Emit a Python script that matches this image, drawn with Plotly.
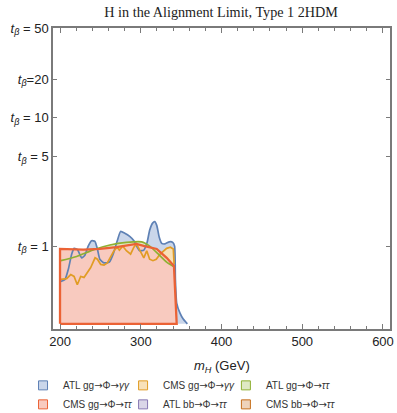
import numpy as np
import plotly.graph_objects as go

# Lower edge of the excluded regions in tan(beta)
t_floor = 0.248

# ATL gg -> Phi -> gamma gamma (upper boundary of excluded region)
m_atl_gaga = [201.0, 206.2, 210.3, 214.4, 217.5, 221.6, 226.7, 230.8, 234.9, 239.1, 243.2,
              246.3, 249.3, 254.5, 261.1, 265.8, 270.9, 275.0, 280.2, 286.3, 291.5, 295.6,
              298.7, 303.8, 307.9, 311.0, 314.7, 317.2, 319.8, 322.9, 325.9, 330.0, 335.4,
              339.6, 341.9, 342.9, 344.5, 348.6, 352.6, 357.7]
t_atl_gaga = [0.53, 0.55, 0.66, 0.865, 0.96, 0.94, 0.81, 0.85, 1.0, 1.10, 1.09, 0.95,
              0.79, 0.74, 0.75, 0.865, 1.10, 1.30, 1.26, 1.19, 1.10, 0.98, 0.92, 0.93,
              1.07, 1.33, 1.51, 1.55, 1.45, 1.17, 1.05, 1.04, 1.08, 1.07, 1.0, 0.55,
              0.36, 0.30, 0.27, 0.248]

# CMS gg -> Phi -> gamma gamma
m_cms_gaga = [201.0, 208.2, 213.3, 217.4, 221.4, 225.6, 229.7, 233.8, 238.0, 243.4, 246.3,
              250.4, 254.5, 258.6, 262.7, 266.8, 270.9, 273.5, 277.6, 282.2, 287.4, 291.5,
              294.6, 298.7, 303.8, 307.4, 311.0, 315.1, 319.2, 323.9, 328.0, 332.1, 336.7,
              340.3, 341.3]
t_cms_gaga = [0.55, 0.557, 0.60, 0.58, 0.50, 0.58, 0.57, 0.62, 0.68, 0.81, 0.79, 0.72,
              0.71, 0.74, 0.83, 0.92, 0.98, 0.93, 1.0, 0.92, 0.865, 0.98, 1.04, 0.92,
              0.81, 0.92, 0.79, 0.77, 0.79, 0.865, 0.92, 0.96, 0.98, 0.95, 0.72]

# ATL gg -> Phi -> tau tau
m_atl_gtt = [201.0, 220.6, 241.1, 261.7, 282.2, 301.1, 311.0, 321.8, 332.1, 341.1]
t_atl_gtt = [0.77, 0.83, 0.935, 1.02, 1.07, 1.08, 1.0, 0.865, 0.75, 0.69]

# CMS gg -> Phi -> tau tau (closed polygon)
m_cms_gtt = [200, 200, 228.8, 249.3, 269.9, 294.6, 304.8, 319.8, 332.1, 341.1, 344.5, 200]
t_cms_gtt = [0.248, 0.95, 0.94, 0.95, 0.98, 1.04, 1.0, 0.95, 0.81, 0.70, 0.248, 0.248]

ARROW = '<span style="font-family:DejaVu Sans">→</span>'
series_names = [f"ATL gg{ARROW}Φ{ARROW}<i>γγ</i>", f"CMS gg{ARROW}Φ{ARROW}<i>γγ</i>",
                f"ATL gg{ARROW}Φ{ARROW}<i>ττ</i>", f"CMS gg{ARROW}Φ{ARROW}<i>ττ</i>",
                f"ATL bb{ARROW}Φ{ARROW}<i>ττ</i>", f"CMS bb{ARROW}Φ{ARROW}<i>ττ</i>"]
line_colors = ["#5E81B5", "#E19C24", "#8FB032", "#EB6235", "#8778B3", "#C56E1A"]
fill_colors = ["#CAD6EA", "#F8E1B9", "#DFE9C4", "#F8CABF", "#DAD6E8", "#EED3BA"]

y_tickvals = [1, 5, 10, 20, 50]
y_ticktext = ["<i>t</i><sub><i>β</i></sub> = 1", "<i>t</i><sub><i>β</i></sub> = 5",
              "<i>t</i><sub><i>β</i></sub> = 10", "<i>t</i><sub><i>β</i></sub>=20",
              "<i>t</i><sub><i>β</i></sub> = 50"]
x_tickvals = [200, 300, 400, 500, 600]

fig = go.Figure()


def closed(ms, ts, start=200):
    # close a boundary curve down to the floor
    return [start, start, *ms, ms[-1], start], [t_floor, ts[0], *ts, t_floor, t_floor]


regions = [
    (m_atl_gaga, t_atl_gaga, 0, "spline"),
    (m_cms_gaga, t_cms_gaga, 1, "linear"),
    (m_atl_gtt, t_atl_gtt, 2, "spline"),
]

# filled regions first
for ms, ts, i, shp in regions:
    fx, fy = closed(ms, ts)
    fig.add_trace(go.Scatter(x=fx, y=fy, mode="lines", fill="toself",
                             fillcolor=fill_colors[i], line=dict(width=0),
                             hoverinfo="skip", showlegend=False))
fig.add_trace(go.Scatter(x=m_cms_gtt, y=t_cms_gtt, mode="lines", fill="toself",
                         fillcolor=fill_colors[3], line=dict(width=0),
                         hoverinfo="skip", showlegend=False))

# boundary lines on top
for ms, ts, i, shp in regions:
    fig.add_trace(go.Scatter(x=ms, y=ts, mode="lines",
                             line=dict(color=line_colors[i], width=1.7, shape=shp,
                                       smoothing=0.5 if shp == "spline" else None),
                             showlegend=False))
fig.add_trace(go.Scatter(x=m_cms_gtt, y=t_cms_gtt, mode="lines",
                         line=dict(color=line_colors[3], width=2.3),
                         showlegend=False))

# legend swatches, laid out in three columns of two
legend_ids = ["legend", "legend2", "legend3"]
for k, (name, lc, fc) in enumerate(zip(series_names, line_colors, fill_colors)):
    fig.add_trace(go.Scatter(x=[None], y=[None], mode="markers", name=name,
                             legend=legend_ids[k % 3], legendgroup=f"g{k}",
                             marker=dict(symbol="square", size=9, color=fc,
                                         line=dict(color=lc, width=1))))

axis_common = dict(showline=True, linecolor="#7a7a7a", linewidth=1.5, mirror="ticks",
                   ticks="inside", tickcolor="#7a7a7a", showgrid=False, zeroline=False,
                   ticklabeloverflow="allow",
                   tickfont=dict(family="Liberation Sans", size=13, color="#222"))

legend_common = dict(orientation="v", xref="container", yref="container", xanchor="left",
                     y=0.102, yanchor="top", itemwidth=30, tracegroupgap=0,
                     font=dict(family="Liberation Sans", size=10, color="#333"),
                     bgcolor="rgba(0,0,0,0)")

fig.update_layout(
    width=397, height=413,
    margin=dict(l=53, r=7, t=28, b=84, autoexpand=False),
    paper_bgcolor="white", plot_bgcolor="white",
    title=dict(text="H in the Alignment Limit, Type 1 2HDM", x=0.557, xanchor="center",
               y=0.972, yanchor="middle",
               font=dict(family="Liberation Serif", size=14.2, color="#222")),
    xaxis=dict(range=[191.3, 608.7], tickvals=x_tickvals, ticklen=5,
               minor=dict(dtick=20, ticks="inside", ticklen=3, tickcolor="#7a7a7a"),
               **axis_common),
    yaxis=dict(type="log", range=[np.log10(0.226), np.log10(50)], tickvals=y_tickvals,
               ticktext=y_ticktext, ticklen=4, **axis_common),
    legend=dict(x=0.058, **legend_common),
    legend2=dict(x=0.31, **legend_common),
    legend3=dict(x=0.569, **legend_common),
    annotations=[dict(text="<i>m</i><sub><i>H</i></sub> (GeV)", xref="paper", yref="paper",
                      x=0.5, y=-0.126, xanchor="center", yanchor="middle", showarrow=False,
                      font=dict(family="Liberation Sans", size=13, color="#222"))],
)

fig.write_html("out.html")
